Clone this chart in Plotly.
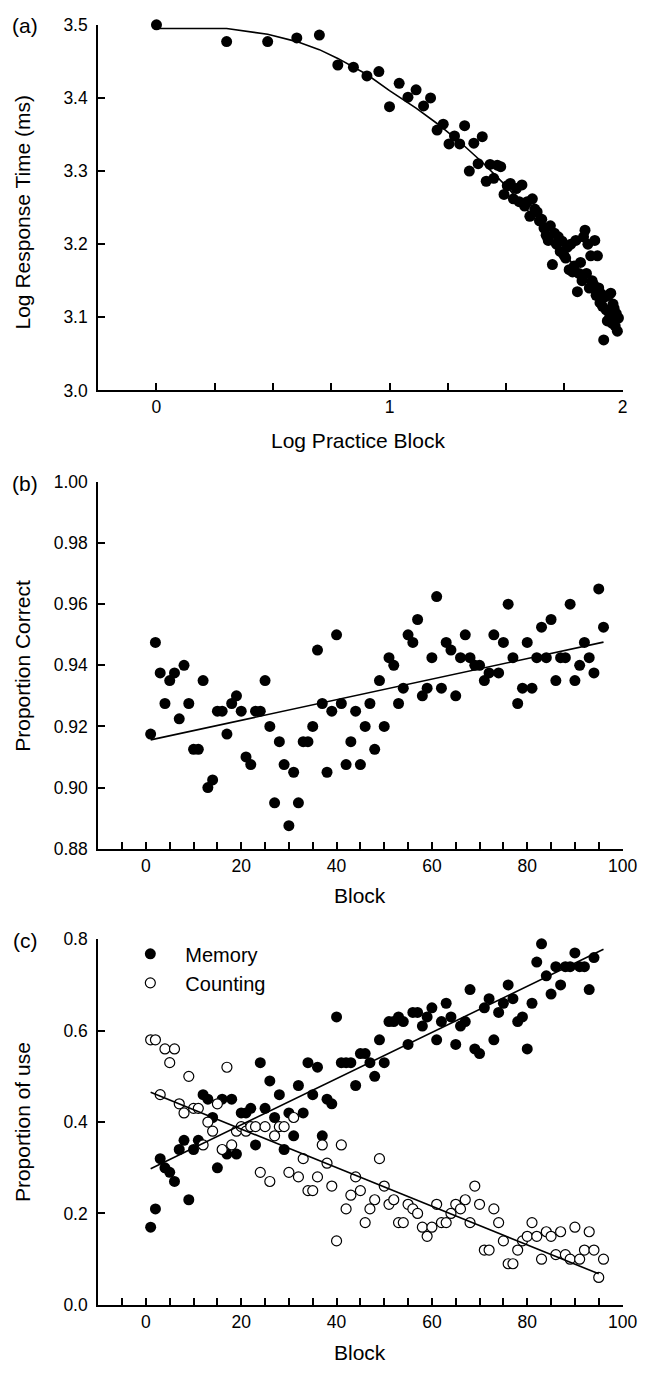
import numpy as np
import plotly.graph_objects as go

# ---------------- data ----------------
blocks = list(range(1, 97))

# (a) log response time per practice block
a_log_rt = [3.500, 3.477, 3.477, 3.482, 3.486, 3.445, 3.442, 3.430, 3.436, 3.388,
            3.420, 3.401, 3.411, 3.389, 3.400, 3.356, 3.364, 3.337, 3.348, 3.337,
            3.362, 3.300, 3.338, 3.310, 3.347, 3.286, 3.309, 3.290, 3.308, 3.306,
            3.268, 3.280, 3.283, 3.262, 3.276, 3.258, 3.281, 3.252, 3.258, 3.238,
            3.262, 3.248, 3.244, 3.232, 3.234, 3.222, 3.212, 3.205, 3.225, 3.172,
            3.215, 3.200, 3.210, 3.190, 3.204, 3.185, 3.181, 3.196, 3.165, 3.200,
            3.162, 3.170, 3.205, 3.135, 3.160, 3.175, 3.150, 3.210, 3.219, 3.160,
            3.200, 3.140, 3.184, 3.150, 3.145, 3.205, 3.130, 3.184, 3.140, 3.120,
            3.132, 3.115, 3.069, 3.128, 3.110, 3.095, 3.130, 3.100, 3.133, 3.092,
            3.118, 3.112, 3.088, 3.105, 3.081, 3.099]
a_fit_blocks = [1, 2, 3, 4, 5, 6, 8, 10, 13, 16, 20, 25, 32, 40, 50, 63, 79, 96]
a_fit_values = [3.495, 3.495, 3.487, 3.477, 3.466, 3.454, 3.432, 3.410, 3.386, 3.365,
                3.340, 3.312, 3.278, 3.243, 3.207, 3.168, 3.128, 3.093]

# (b) proportion correct per block
b_correct = [0.9175, 0.9475, 0.9375, 0.9275, 0.935, 0.9375, 0.9225, 0.94, 0.9275, 0.9125,
             0.9125, 0.935, 0.90, 0.9025, 0.925, 0.925, 0.9175, 0.9275, 0.93, 0.925,
             0.91, 0.9075, 0.925, 0.925, 0.935, 0.92, 0.895, 0.915, 0.9075, 0.8875,
             0.905, 0.895, 0.915, 0.915, 0.92, 0.945, 0.9275, 0.905, 0.925, 0.95,
             0.9275, 0.9075, 0.915, 0.925, 0.9075, 0.92, 0.9275, 0.9125, 0.935, 0.92,
             0.9425, 0.94, 0.9275, 0.9325, 0.95, 0.9475, 0.955, 0.93, 0.9325, 0.9425,
             0.9625, 0.9325, 0.9475, 0.945, 0.93, 0.9425, 0.95, 0.9425, 0.94, 0.94,
             0.935, 0.9375, 0.95, 0.9375, 0.9475, 0.96, 0.9425, 0.9275, 0.9325, 0.9475,
             0.9325, 0.9425, 0.9525, 0.9425, 0.955, 0.935, 0.9425, 0.9425, 0.96, 0.935,
             0.94, 0.9475, 0.9425, 0.9375, 0.965, 0.9525]
b_fit_blocks = [1, 96]
b_fit_values = [0.9156, 0.9476]

# (c) proportion of strategy use per block
c_memory_blocks = list(range(1, 95))
c_memory = [0.17, 0.21, 0.32, 0.30, 0.29, 0.27, 0.34, 0.36, 0.23, 0.34,
            0.36, 0.46, 0.45, 0.41, 0.30, 0.45, 0.33, 0.45, 0.33, 0.42,
            0.42, 0.43, 0.35, 0.53, 0.43, 0.49, 0.41, 0.46, 0.34, 0.42,
            0.37, 0.48, 0.42, 0.53, 0.46, 0.52, 0.37, 0.45, 0.44, 0.63,
            0.53, 0.53, 0.53, 0.48, 0.55, 0.55, 0.53, 0.50, 0.58, 0.53,
            0.62, 0.62, 0.63, 0.62, 0.57, 0.64, 0.64, 0.61, 0.63, 0.65,
            0.58, 0.62, 0.66, 0.63, 0.57, 0.61, 0.62, 0.69, 0.56, 0.55,
            0.65, 0.67, 0.58, 0.64, 0.66, 0.70, 0.67, 0.62, 0.63, 0.56,
            0.66, 0.75, 0.79, 0.72, 0.68, 0.74, 0.70, 0.74, 0.74, 0.77,
            0.74, 0.74, 0.69, 0.76]
c_counting = [0.58, 0.58, 0.46, 0.56, 0.53, 0.56, 0.44, 0.42, 0.50, 0.43,
              0.43, 0.35, 0.40, 0.38, 0.44, 0.34, 0.52, 0.35, 0.38, 0.39,
              0.38, 0.39, 0.39, 0.29, 0.39, 0.27, 0.37, 0.39, 0.39, 0.29,
              0.41, 0.28, 0.32, 0.25, 0.25, 0.28, 0.35, 0.31, 0.26, 0.14,
              0.35, 0.21, 0.24, 0.28, 0.25, 0.18, 0.21, 0.23, 0.32, 0.26,
              0.22, 0.23, 0.18, 0.18, 0.22, 0.21, 0.20, 0.17, 0.15, 0.17,
              0.22, 0.18, 0.18, 0.20, 0.22, 0.21, 0.23, 0.18, 0.26, 0.22,
              0.12, 0.12, 0.21, 0.18, 0.14, 0.09, 0.09, 0.12, 0.14, 0.15,
              0.18, 0.15, 0.10, 0.16, 0.15, 0.11, 0.16, 0.11, 0.10, 0.17,
              0.10, 0.12, 0.16, 0.12, 0.06, 0.10]
c_memory_fit_blocks = [1, 96]
c_memory_fit = [0.298, 0.778]
c_counting_fit_blocks = [1, 95]
c_counting_fit = [0.465, 0.068]

# ---------------- layout geometry ----------------
W, H = 662, 1374
FONT = "Liberation Sans, Arial, sans-serif"
x0_px, x1_px = 100.5, 637

def px_x(p):
    return p / W

def px_y(p):
    return 1 - p / H

xdom = [px_x(x0_px), px_x(x1_px)]
ydom_a = [px_y(386), px_y(15)]
ydom_b = [px_y(851), px_y(479)]
ydom_c = [px_y(1314), px_y(943)]

fig = go.Figure()

mk_fill = dict(size=11, color="black", line=dict(width=0))
mk_open = dict(size=10, color="white", line=dict(width=1.2, color="black"))

# (a)
fig.add_trace(go.Scatter(x=np.log10(blocks), y=a_log_rt, mode="markers", marker=mk_fill,
                         xaxis="x", yaxis="y", showlegend=False, cliponaxis=False))
fig.add_trace(go.Scatter(x=np.log10(a_fit_blocks), y=a_fit_values, mode="lines",
                         line=dict(color="black", width=1.6), xaxis="x", yaxis="y",
                         showlegend=False))
# (b)
fig.add_trace(go.Scatter(x=blocks, y=b_correct, mode="markers", marker=mk_fill,
                         xaxis="x2", yaxis="y2", showlegend=False, cliponaxis=False))
fig.add_trace(go.Scatter(x=b_fit_blocks, y=b_fit_values, mode="lines",
                         line=dict(color="black", width=1.6), xaxis="x2", yaxis="y2",
                         showlegend=False))
# (c)
fig.add_trace(go.Scatter(x=c_memory_blocks, y=c_memory, mode="markers", marker=mk_fill,
                         name="Memory", xaxis="x3", yaxis="y3", cliponaxis=False))
fig.add_trace(go.Scatter(x=blocks, y=c_counting, mode="markers", marker=mk_open,
                         name="Counting", xaxis="x3", yaxis="y3", cliponaxis=False))
fig.add_trace(go.Scatter(x=c_memory_fit_blocks, y=c_memory_fit, mode="lines",
                         line=dict(color="black", width=1.6), xaxis="x3", yaxis="y3",
                         showlegend=False))
fig.add_trace(go.Scatter(x=c_counting_fit_blocks, y=c_counting_fit, mode="lines",
                         line=dict(color="black", width=1.6), xaxis="x3", yaxis="y3",
                         showlegend=False))

tickfont = dict(family=FONT, size=17.5, color="black")

def xaxis(anchor, rng, tickvals, minor_dtick):
    return dict(domain=xdom, anchor=anchor, range=rng, tickvals=tickvals,
                showline=True, linecolor="black", linewidth=2, ticks="inside",
                ticklen=7, tickwidth=2, tickcolor="black", showgrid=False,
                zeroline=False, tickfont=tickfont, ticklabelstandoff=0,
                minor=dict(dtick=minor_dtick, tick0=0, ticks="inside", ticklen=7,
                           tickwidth=1.5, tickcolor="black", showgrid=False))

def yaxis(anchor, dom, rng, dtick, fmt):
    return dict(domain=dom, anchor=anchor, range=rng, dtick=dtick, tick0=0,
                tickformat=fmt, showline=True, linecolor="black", linewidth=2,
                ticks="inside", ticklen=7, tickwidth=2, tickcolor="black",
                showgrid=False, zeroline=False, tickfont=tickfont, ticklabelstandoff=5)

fig.update_layout(
    width=W, height=H,
    margin=dict(l=0, r=0, t=0, b=0),
    paper_bgcolor="white", plot_bgcolor="white",
    font=dict(family=FONT, size=17.5, color="black"),
    xaxis=xaxis("y", [-0.25, 2], [0, 1, 2], 0.25),
    yaxis=yaxis("x", ydom_a, [3.0, 3.5], 0.1, ".1f"),
    xaxis2=xaxis("y2", [-10, 100], [0, 20, 40, 60, 80, 100], 5),
    yaxis2=yaxis("x2", ydom_b, [0.88, 1.0], 0.02, ".2f"),
    xaxis3=xaxis("y3", [-10, 100], [0, 20, 40, 60, 80, 100], 5),
    yaxis3=yaxis("x3", ydom_c, [0.0, 0.8], 0.2, ".1f"),
    legend=dict(x=px_x(118), y=px_y(938), xanchor="left", yanchor="top",
                font=dict(family=FONT, size=20, color="black"),
                bgcolor="rgba(0,0,0,0)", itemwidth=60, tracegroupgap=0),
)

title_font = dict(family=FONT, size=21, color="black")
annos = [
    dict(text="Log Response Time (ms)", x=px_x(23), y=px_y(205), textangle=-90),
    dict(text="Proportion Correct", x=px_x(23), y=px_y(665), textangle=-90),
    dict(text="Proportion of use", x=px_x(23), y=px_y(1128), textangle=-90),
    dict(text="Log Practice Block", x=px_x(366), y=px_y(437)),
    dict(text="Block", x=px_x(368), y=px_y(899)),
    dict(text="Block", x=px_x(368), y=px_y(1362)),
    dict(text="(a)", x=px_x(26), y=px_y(16)),
    dict(text="(b)", x=px_x(26), y=px_y(480)),
    dict(text="(c)", x=px_x(26), y=px_y(944)),
]
for a in annos:
    fig.add_annotation(xref="paper", yref="paper", showarrow=False,
                       xanchor="center", yanchor="middle", font=title_font, **a)

fig.write_html("out.html")
